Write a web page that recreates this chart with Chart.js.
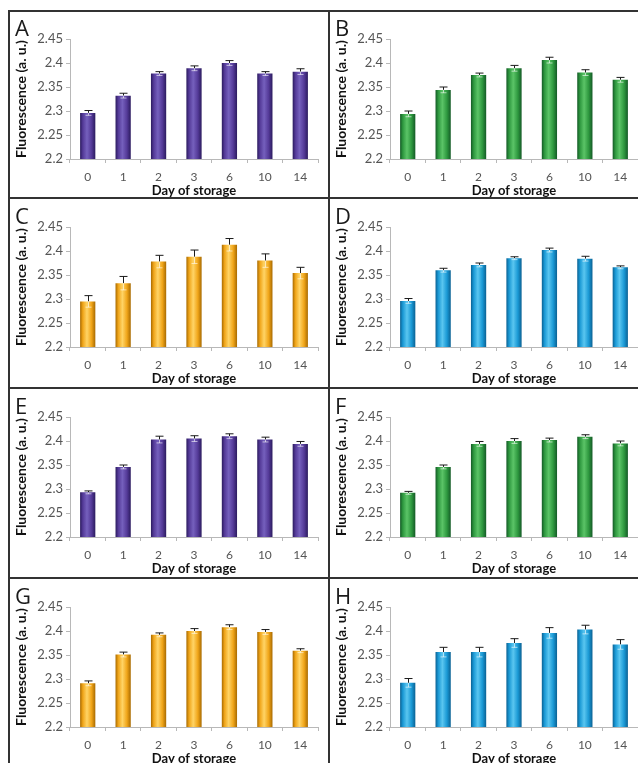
<!DOCTYPE html>
<html>
<head>
<meta charset="utf-8">
<script src="https://cdn.jsdelivr.net/npm/chart.js@4/dist/chart.umd.min.js"></script>
<style>
  html, body { margin: 0; padding: 0; background: #fff; }
  body { width: 638px; height: 763px; position: relative; overflow: hidden; font-family: Lato, "Open Sans", sans-serif; }
  .cell { position: absolute; width: 320px; height: 190px; }
  .cell canvas { position: absolute; left: 0; top: 0; }
  .letter { position: absolute; left: 6px; top: 3px; font-size: 22px; line-height: 26px; color: #1a1a1a; font-family: "Open Sans", Lato, sans-serif; }
  .hline { position: absolute; height: 2px; background: #333; z-index: 5; }
  .vline { position: absolute; width: 2px; background: #333; z-index: 5; }
</style>
</head>
<body>
<div class="hline" style="left:8px; top:10px; width:640px;"></div>
<div class="hline" style="left:8px; top:197px; width:640px;"></div>
<div class="hline" style="left:8px; top:387px; width:640px;"></div>
<div class="hline" style="left:8px; top:577px; width:640px;"></div>
<div class="vline" style="left:8px; top:10px; height:760px;"></div>
<div class="vline" style="left:328px; top:10px; height:760px;"></div>

<div class="cell" style="left:9px; top:11px;"><canvas id="chartA" width="320" height="190"></canvas><div class="letter">A</div></div>
<div class="cell" style="left:329px; top:11px;"><canvas id="chartB" width="320" height="190"></canvas><div class="letter">B</div></div>
<div class="cell" style="left:9px; top:199px;"><canvas id="chartC" width="320" height="190"></canvas><div class="letter">C</div></div>
<div class="cell" style="left:329px; top:199px;"><canvas id="chartD" width="320" height="190"></canvas><div class="letter">D</div></div>
<div class="cell" style="left:9px; top:389px;"><canvas id="chartE" width="320" height="190"></canvas><div class="letter">E</div></div>
<div class="cell" style="left:329px; top:389px;"><canvas id="chartF" width="320" height="190"></canvas><div class="letter">F</div></div>
<div class="cell" style="left:9px; top:579px;"><canvas id="chartG" width="320" height="190"></canvas><div class="letter">G</div></div>
<div class="cell" style="left:329px; top:579px;"><canvas id="chartH" width="320" height="190"></canvas><div class="letter">H</div></div>

<script>
// DATA
const days = ["0", "1", "2", "3", "6", "10", "14"];
const yTicks = [2.2, 2.25, 2.3, 2.35, 2.4, 2.45];

const valuesA = [2.296, 2.332, 2.378, 2.389, 2.400, 2.378, 2.382];
const errorsA = [0.005, 0.005, 0.004, 0.005, 0.005, 0.004, 0.006];
const valuesB = [2.294, 2.344, 2.375, 2.389, 2.406, 2.380, 2.365];
const errorsB = [0.006, 0.006, 0.004, 0.006, 0.006, 0.006, 0.005];
const valuesC = [2.295, 2.333, 2.378, 2.388, 2.413, 2.380, 2.354];
const errorsC = [0.012, 0.014, 0.013, 0.014, 0.013, 0.014, 0.012];
const valuesD = [2.296, 2.360, 2.371, 2.385, 2.402, 2.384, 2.366];
const errorsD = [0.005, 0.004, 0.004, 0.003, 0.004, 0.005, 0.003];
const valuesE = [2.293, 2.346, 2.403, 2.405, 2.410, 2.403, 2.394];
const errorsE = [0.003, 0.004, 0.007, 0.006, 0.005, 0.005, 0.005];
const valuesF = [2.292, 2.346, 2.394, 2.400, 2.402, 2.409, 2.395];
const errorsF = [0.003, 0.004, 0.005, 0.005, 0.004, 0.004, 0.005];
const valuesG = [2.291, 2.351, 2.392, 2.400, 2.408, 2.398, 2.359];
const errorsG = [0.005, 0.005, 0.004, 0.005, 0.005, 0.005, 0.004];
const valuesH = [2.292, 2.356, 2.356, 2.375, 2.396, 2.403, 2.372];
const errorsH = [0.009, 0.010, 0.010, 0.009, 0.011, 0.009, 0.010];

// BAR SHADES: edge, middle, highlight
const purple = ["#2b1b5e", "#543a98", "#7560bd"];
const green = ["#145a26", "#2e983f", "#5bc467"];
const orange = ["#a86a00", "#f0a519", "#ffd466"];
const blue = ["#0a6193", "#1a99d5", "#5ac6f0"];

const barPct = 0.43;

//PLUGIN FOR ERROR BARS
const errorBars = {
  id: "errorBars",
  afterDatasetsDraw(chart) {
    const ctx = chart.ctx;
    const y = chart.scales.y;
    const meta = chart.getDatasetMeta(0);
    const vals = chart.data.datasets[0].data;
    const errs = chart.data.datasets[0].errors;
    ctx.save();
    ctx.lineWidth = 1;
    for (let i = 0; i < vals.length; i++) {
      const cx = Math.round(meta.data[i].x) + 0.5;
      const top = y.getPixelForValue(vals[i] + errs[i]);
      const mid = y.getPixelForValue(vals[i]);
      const low = y.getPixelForValue(vals[i] - errs[i]);
      ctx.strokeStyle = "#1a1a1a";
      ctx.beginPath();
      ctx.moveTo(cx, mid);
      ctx.lineTo(cx, top);
      ctx.moveTo(cx - 4, top);
      ctx.lineTo(cx + 4, top);
      ctx.stroke();
      ctx.strokeStyle = "rgba(255,255,255,0.6)";
      ctx.beginPath();
      ctx.moveTo(cx, mid);
      ctx.lineTo(cx, low);
      ctx.moveTo(cx - 3, low);
      ctx.lineTo(cx + 3, low);
      ctx.stroke();
    }
    ctx.restore();
  },
};

function makeChart(canvasId, values, errors, shades) {
  const data = {
    labels: days,
    datasets: [
      {
        data: values,
        errors: errors,
        backgroundColor: (c) => {
          const chart = c.chart;
          const x = chart.scales.x;
          if (!x || c.dataIndex === undefined || !x.width) return shades[1];
          const cx = x.getPixelForValue(c.dataIndex);
          const w = (x.width / days.length) * barPct;
          const g = chart.ctx.createLinearGradient(cx - w / 2, 0, cx + w / 2, 0);
          g.addColorStop(0, shades[0]);
          g.addColorStop(0.18, shades[1]);
          g.addColorStop(0.45, shades[2]);
          g.addColorStop(0.75, shades[1]);
          g.addColorStop(1, shades[0]);
          return g;
        },
        borderWidth: 0,
        categoryPercentage: 1,
        barPercentage: barPct,
      },
    ],
  };

  const config = {
    type: "bar",
    data,
    options: {
      responsive: false,
      animation: false,
      events: [],
      layout: { padding: { left: 5, top: 28, right: 11, bottom: 4 } },
      plugins: {
        legend: { display: false },
        tooltip: { enabled: false },
      },
      scales: {
        x: {
          afterFit: (scale) => {
            scale.height = 38;
          },
          border: { color: "#b8b8b8", width: 1 },
          grid: { display: true, drawOnChartArea: false, drawTicks: true, tickLength: 4, color: "#b8b8b8", offset: true },
          ticks: { color: "#555", padding: 8, font: { family: "Lato", size: 12, lineHeight: 1 } },
          title: {
            display: true,
            text: "Day of storage",
            color: "#111",
            padding: { top: 0, bottom: 0 },
            font: { family: "Lato", size: 13, weight: "bold", lineHeight: 1 },
          },
        },
        y: {
          min: 2.2,
          max: 2.45,
          afterBuildTicks: (scale) => {
            scale.ticks = yTicks.map((v) => ({ value: v }));
          },
          afterFit: (scale) => {
            scale.width = 56;
          },
          border: { color: "#b8b8b8", width: 1 },
          grid: { display: true, drawOnChartArea: false, drawTicks: true, tickLength: 4, color: "#b8b8b8" },
          ticks: {
            color: "#555",
            padding: 3,
            font: { family: "Lato", size: 13, lineHeight: 1 },
            callback: (v) => String(v),
          },
          title: {
            display: true,
            text: "Fluorescence (a. u.)",
            color: "#111",
            padding: { top: 0, bottom: 0 },
            font: { family: "Lato", size: 14, weight: "bold", lineHeight: 1 },
          },
        },
      },
    },
    plugins: [errorBars],
  };

  return new Chart(document.getElementById(canvasId), config);
}

makeChart("chartA", valuesA, errorsA, purple);
makeChart("chartB", valuesB, errorsB, green);
makeChart("chartC", valuesC, errorsC, orange);
makeChart("chartD", valuesD, errorsD, blue);
makeChart("chartE", valuesE, errorsE, purple);
makeChart("chartF", valuesF, errorsF, green);
makeChart("chartG", valuesG, errorsG, orange);
makeChart("chartH", valuesH, errorsH, blue);
</script>
</body>
</html>
